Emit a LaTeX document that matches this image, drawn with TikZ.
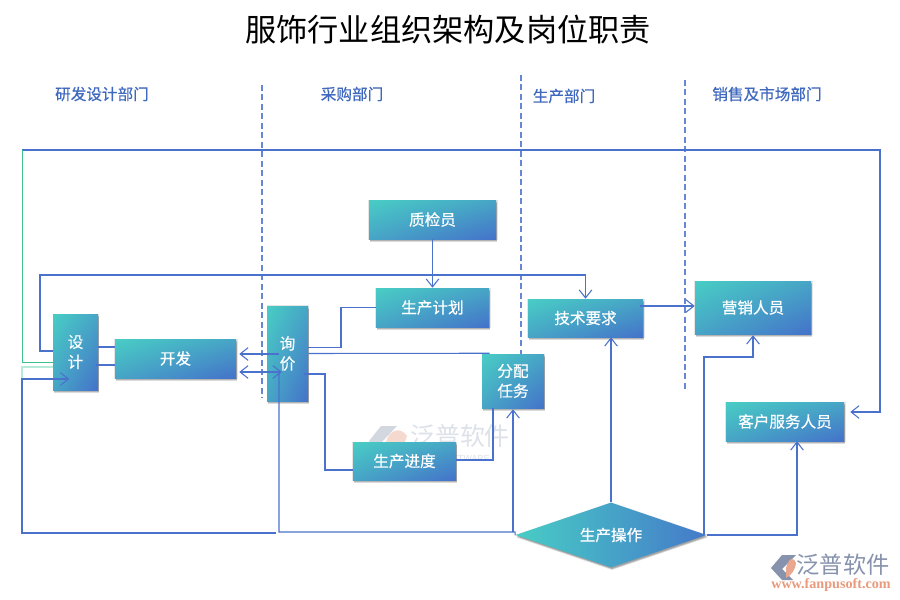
\documentclass[tikz,border=0pt]{standalone}
\usepackage{fontspec}
\setmainfont{Noto Sans CJK SC}
\newfontfamily\cjkmed[FakeBold=0.45]{Noto Sans CJK SC}
\newfontfamily\latinserif{Liberation Serif}
\newfontfamily\latinsans{Liberation Sans}
\usetikzlibrary{arrows.meta,shadows,shadings,shapes.geometric,calc}
\definecolor{tealc}{HTML}{48CDC5}
\definecolor{midc}{HTML}{47A5C6}
\definecolor{bluec}{HTML}{4472CA}
\definecolor{linec}{HTML}{4A72CC}
\definecolor{wmtext}{HTML}{DDE1E9}
\definecolor{wmgray}{HTML}{D3D8E0}
\definecolor{wmpeach}{HTML}{F5D9CE}
\definecolor{logogray}{HTML}{8793AD}
\definecolor{logopeach}{HTML}{E9A78F}
\definecolor{logourl}{HTML}{E89A7C}
\definecolor{deptc}{HTML}{3F69BE}
\definecolor{greenc}{HTML}{3CC08C}
\definecolor{palegreen}{HTML}{B5EBD8}
\tikzset{
  x=0.75pt,y=-0.75pt,
  softshadow/.style={
    drop shadow={shadow xshift=0.3pt,shadow yshift=-0.3pt,fill=black,opacity=.10,shadow scale=1.02},
    drop shadow={shadow xshift=0.9pt,shadow yshift=-1.2pt,fill=black,opacity=.18},
    drop shadow={shadow xshift=0.7pt,shadow yshift=-1.9pt,fill=black,opacity=.14}},
  card/.style={shade,upper left=tealc,lower right=bluec,upper right=midc,lower left=midc,
    inner sep=0pt,text=white,font=\fontsize{11.7pt}{15pt}\cjkmed,align=center,softshadow},
  conn/.style={draw=linec,line width=0.8pt},
  arr/.style={conn,-{Straight Barb[length=6pt,width=9.5pt,line width=0.8pt]}},
  arrb/.style={conn,{Straight Barb[length=6pt,width=9.5pt,line width=0.8pt]}-{Straight Barb[length=6pt,width=9.5pt,line width=0.8pt]}},
  divider/.style={draw=linec!85,line width=0.9pt,dash pattern=on 4.5pt off 2.6pt},
  dept/.style={text=deptc,font=\fontsize{11.7pt}{14pt}\cjkmed,inner sep=0pt},
}
\begin{document}
\begin{tikzpicture}
\useasboundingbox (0,0) rectangle (900,600);
\fill[white] (0,0) rectangle (900,600);

% title and department labels
\node[inner sep=0pt,font=\fontsize{23.4pt}{28pt}\selectfont] (title) at (448,30) {服饰行业组织架构及岗位职责};
\node[dept] (d1) at (102,94) {研发设计部门};
\node[dept] (d2) at (352,94) {采购部门};
\node[dept] (d3) at (564,96) {生产部门};
\node[dept] (d4) at (767,94) {销售及市场部门};

% dividers
\coordinate (v1a) at (262,85);  \coordinate (v1b) at (262,398);
\coordinate (v2a) at (521,75);  \coordinate (v2b) at (521,354);
\coordinate (v3a) at (685,80);  \coordinate (v3b) at (685,392);
\draw[divider] (v1a) -- (v1b);
\draw[divider] (v2a) -- (v2b);
\draw[divider] (v3a) -- (v3b);

% central watermark
\fill[wmgray] (369,441) -- (381,426) -- (397,426) -- (382,442) -- (393,456) -- (381,456) -- cycle;
\fill[wmpeach] (386,442) .. controls (389,430) and (400,426) .. (407,436) .. controls (405,446) and (396,453) .. (386,456) -- cycle;
\node[inner sep=0pt,text=wmtext,font=\fontsize{18.7pt}{22pt}\selectfont] (wm) at (460,436) {泛普软件};
\node[inner sep=0pt,text=wmtext,font=\latinsans\fontsize{6.6pt}{8pt}\selectfont] (wm2) at (449,458) {FANPU SOFTWARE};

% bottom-right logo
\fill[logogray] (771,568) -- (782,555) -- (796,555) -- (782,569) -- (793,580) -- (782,580) -- cycle;
\fill[logopeach] (786,568) .. controls (789,558) and (793,556) .. (796,563) .. controls (795,571) and (791,575) .. (786,578) -- cycle;
\node[inner sep=0pt,text=logogray,font=\fontsize{17.4pt}{20pt}\selectfont] (logo) at (843,565) {泛普软件};
\node[inner sep=0pt,text=logourl,font=\latinserif\fontsize{10.6pt}{12pt}\selectfont\bfseries] (logo2) at (831,585) {www.fanpusoft.com};

% nodes
\node[card,minimum width=45pt*0.75,minimum height=76pt*0.75] (sheji) at (75.5,352) {设\\计};
\node[card,minimum width=121pt*0.75,minimum height=39pt*0.75] (kaifa) at (175.5,358.5) {开发};
\node[card,minimum width=41pt*0.75,minimum height=95pt*0.75] (xunjia) at (287.5,353.5) {询\\价};
\node[card,minimum width=127pt*0.75,minimum height=39pt*0.75] (zhijian) at (432.5,219.5) {质检员};
\node[card,minimum width=113pt*0.75,minimum height=39pt*0.75] (jihua) at (432.5,307.5) {生产计划};
\node[card,minimum width=115pt*0.75,minimum height=38pt*0.75] (jishu) at (585.5,318) {技术要求};
\node[card,minimum width=62pt*0.75,minimum height=54pt*0.75] (fenpei) at (513,381) {分配\\任务};
\node[card,minimum width=103pt*0.75,minimum height=38pt*0.75] (jindu) at (404.5,461) {生产进度};
\node[card,minimum width=116pt*0.75,minimum height=53pt*0.75] (yingxiao) at (753,307.5) {营销人员};
\node[card,minimum width=118pt*0.75,minimum height=39pt*0.75] (kefu) at (785,421.5) {客户服务人员};
\node[diamond,aspect=2.94,minimum width=191pt*0.75,minimum height=65pt*0.75,inner sep=0pt,
  shade,left color=tealc,right color=bluec!85!midc,text=white,font=\fontsize{11.7pt}{15pt}\cjkmed,
  softshadow] (caozuo) at (611,535) {生产操作};

% routing points
\coordinate (topL) at (22,150);
\coordinate (topR) at (880,150);
\coordinate (rowA) at (40,275);
\coordinate (botL) at (22,533);
\coordinate (botM) at (276,533);
\coordinate (botM2) at (279,532);
\coordinate (junc) at (513,532);
\coordinate (greenTop) at (22.5,150);

% connectors
\draw[conn,draw=palegreen] ($(sheji.west)+(0,15)$) -- (22,367) -- (22,379);
\draw[arr] (topL) -- (topR) |- ($(kefu.east)+(6,-9.5)$);
\draw[conn,draw=greenc] ($(sheji.west)+(0,10.5)$) -| (greenTop);
\draw[arr] ($(sheji.west)+(0,-1)$) -| (rowA) -| (jishu.north);
\draw[arr] (zhijian.south) -- (jihua.north);
\draw[conn] (jihua.west) -- (341,307.5) |- ($(xunjia.east)+(0,-6)$);
\draw[conn] (xunjia.east) -- ($(fenpei.north west)+(8,-0.5)$);
\draw[conn] ($(xunjia.east)+(-4,20.5)$) -| (325,470) -- ($(jindu.west)+(0,9)$);
\draw[conn] ($(jindu.east)+(0,-1)$) -| ($(fenpei.south)+(-20,0)$);
\draw[arr] ($(jishu.east)+(-3,-12)$) -- ($(yingxiao.west)+(0,-1.5)$);
\draw[arr] (caozuo.north) -- (caozuo.north |- jishu.south);
\draw[arr] (junc) -- ($(fenpei.south)+(0,1)$);
\draw[conn] (caozuo.west) -- (515,532) -- (botM2) -- (279,372);
\draw[arrb] ($(kaifa.east)+(3,13.5)$) -- ($(xunjia.west)+(15,18.5)$);
\draw[arr] ($(xunjia.west)+(12,0.5)$) -- ($(kaifa.east)+(3,-4.5)$);
\draw[arr] (botM) -- (botL) -- (22,379) -- ($(sheji.east)+(-29,27)$);
\draw[conn] ($(sheji.east)+(0,-5)$) -- ($(kaifa.west)+(0,-11.5)$);
\draw[conn] ($(sheji.east)+(-2,13)$) -- ($(kaifa.west)+(0,6.5)$);
\draw[arr] (caozuo.east) -| ($(kefu.south)+(12,0)$);
\draw[arr] (704,535) -- (704,357) -| ($(yingxiao.south)+(0,1)$);
\end{tikzpicture}
\end{document}
